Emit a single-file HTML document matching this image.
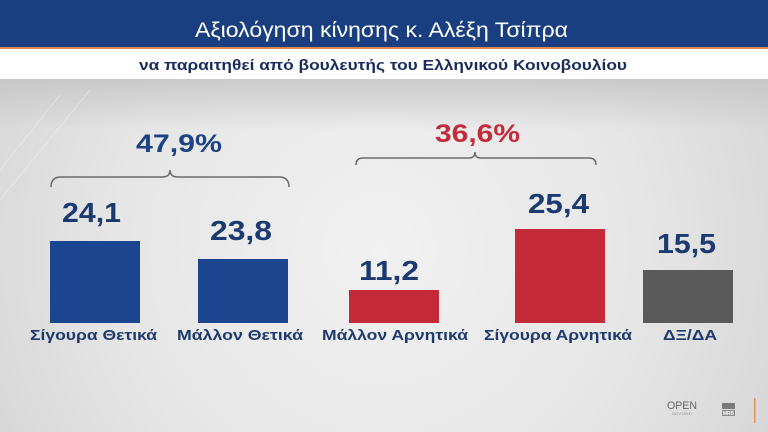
<!DOCTYPE html>
<html>
<head>
<meta charset="utf-8">
<style>
html,body{margin:0;padding:0;width:768px;height:432px;overflow:hidden;}
svg{display:block;}
</style>
</head>
<body>
<svg width="768" height="432" viewBox="0 0 768 432" xmlns="http://www.w3.org/2000/svg">
<defs>
<radialGradient id="bg" cx="380" cy="250" r="480" gradientUnits="userSpaceOnUse">
<stop offset="0" stop-color="#f1f1f1"/>
<stop offset="0.55" stop-color="#e6e6e6"/>
<stop offset="1" stop-color="#d2d2d2"/>
</radialGradient>
<linearGradient id="topsh" x1="0" y1="80" x2="0" y2="130" gradientUnits="userSpaceOnUse">
<stop offset="0" stop-color="#c4c4c4" stop-opacity="0.8"/>
<stop offset="1" stop-color="#c4c4c4" stop-opacity="0"/>
</linearGradient>
</defs>
<rect x="0" y="0" width="768" height="432" fill="url(#bg)"/>
<rect x="0" y="79" width="768" height="55" fill="url(#topsh)"/>
<path d="M0,200 L90,90 M0,170 L60,95" stroke="#ffffff" stroke-opacity="0.35" stroke-width="1"/>
<!-- header -->
<rect x="0" y="0" width="768" height="47" fill="#193f80"/>
<rect x="0" y="47" width="768" height="2" fill="#e0844e"/>
<rect x="0" y="49" width="768" height="30" fill="#ffffff"/>
<text x="195" y="37" font-family="Liberation Sans, sans-serif" font-size="21" fill="#ffffff" textLength="373" lengthAdjust="spacingAndGlyphs">Αξιολόγηση κίνησης κ. Αλέξη Τσίπρα</text>
<text x="139" y="70" font-family="Liberation Sans, sans-serif" font-size="15" font-weight="bold" fill="#1a2c5c" textLength="488" lengthAdjust="spacingAndGlyphs">να παραιτηθεί από βουλευτής του Ελληνικού Κοινοβουλίου</text>

<!-- brackets -->
<path d="M51,187 Q51,177 61,177 L162,177 Q170,177 170,170 Q170,177 178,177 L279,177 Q289,177 289,187" fill="none" stroke="#6a6a6a" stroke-width="1.5"/>
<path d="M356,165 Q356,158 363,158 L469,158 Q475,158 475,152 Q475,158 481,158 L589,158 Q596,158 596,165" fill="none" stroke="#6a6a6a" stroke-width="1.5"/>

<text x="136" y="152" font-family="Liberation Sans, sans-serif" font-size="25" font-weight="bold" fill="#1c4385" textLength="86" lengthAdjust="spacingAndGlyphs">47,9%</text>
<text x="435" y="142" font-family="Liberation Sans, sans-serif" font-size="25" font-weight="bold" fill="#c42a39" textLength="85" lengthAdjust="spacingAndGlyphs">36,6%</text>

<!-- bars -->
<rect x="50" y="241" width="90" height="82" fill="#1c4590"/>
<rect x="198" y="259" width="90" height="64" fill="#1c4590"/>
<rect x="349" y="290" width="90" height="33" fill="#c42a39"/>
<rect x="515" y="229" width="90" height="94" fill="#c42a39"/>
<rect x="643" y="270" width="90" height="53" fill="#5a5a5a"/>

<!-- values -->
<g font-family="Liberation Sans, sans-serif" font-size="28" font-weight="bold" fill="#1b3a72">
<text x="62" y="222" textLength="59" lengthAdjust="spacingAndGlyphs">24,1</text>
<text x="210" y="240" textLength="62" lengthAdjust="spacingAndGlyphs">23,8</text>
<text x="359" y="280" textLength="60" lengthAdjust="spacingAndGlyphs">11,2</text>
<text x="528" y="213" textLength="61" lengthAdjust="spacingAndGlyphs">25,4</text>
<text x="657" y="253" textLength="59" lengthAdjust="spacingAndGlyphs">15,5</text>
</g>

<!-- labels -->
<g font-family="Liberation Sans, sans-serif" font-size="15" font-weight="bold" fill="#1e3a6e">
<text x="30" y="340" textLength="127" lengthAdjust="spacingAndGlyphs">Σίγουρα Θετικά</text>
<text x="177" y="340" textLength="126" lengthAdjust="spacingAndGlyphs">Μάλλον Θετικά</text>
<text x="322" y="340" textLength="146" lengthAdjust="spacingAndGlyphs">Μάλλον Αρνητικά</text>
<text x="484" y="340" textLength="148" lengthAdjust="spacingAndGlyphs">Σίγουρα Αρνητικά</text>
<text x="663" y="340" textLength="54" lengthAdjust="spacingAndGlyphs">ΔΞ/ΔΑ</text>
</g>

<!-- logos -->
<text x="667" y="409" font-family="Liberation Sans, sans-serif" font-size="11" fill="#666" textLength="30" lengthAdjust="spacingAndGlyphs">OPEN</text>
<text x="672" y="415" font-family="Liberation Sans, sans-serif" font-size="4" fill="#999" textLength="20" lengthAdjust="spacingAndGlyphs">BEYOND</text>
<rect x="722" y="403" width="13" height="6" fill="#7a7a7a"/>
<rect x="722" y="410" width="13" height="6" fill="#8a8a8a"/>
<text x="723" y="415" font-family="Liberation Sans, sans-serif" font-size="5" font-weight="bold" fill="#fff" textLength="11" lengthAdjust="spacingAndGlyphs">MRB</text>
<rect x="754" y="398" width="1.5" height="25" fill="#e0945e"/>
</svg>
</body>
</html>
